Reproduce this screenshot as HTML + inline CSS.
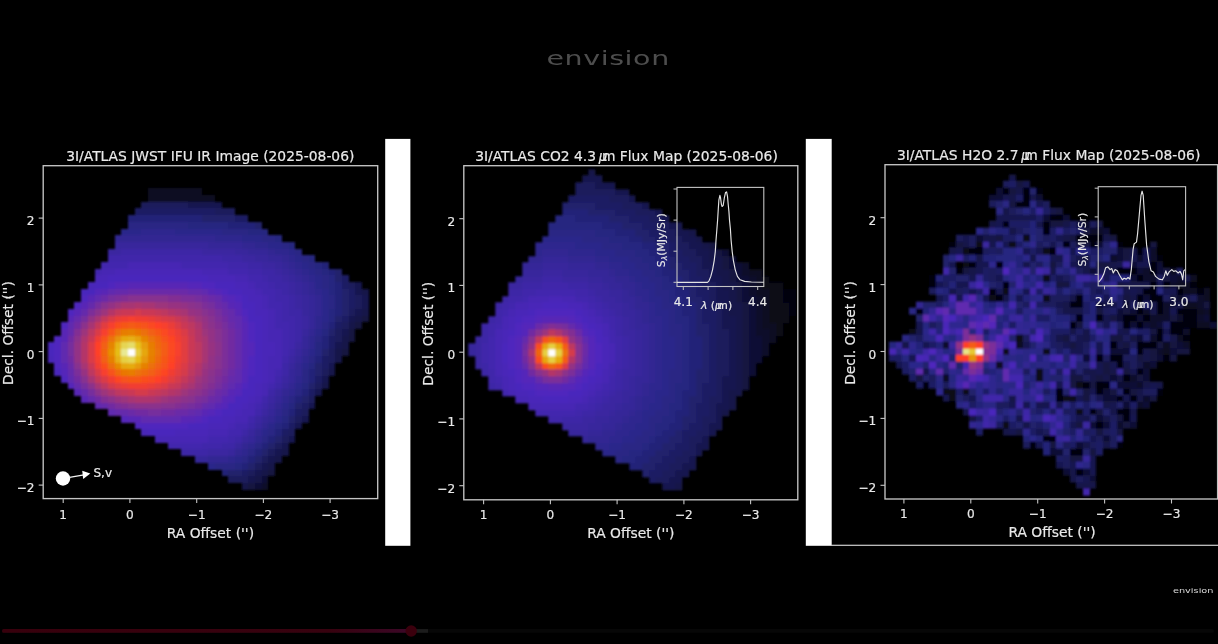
<!DOCTYPE html>
<html lang="en"><head><meta charset="utf-8"><title>3I/ATLAS JWST IFU maps</title>
<style>html,body{margin:0;padding:0;background:#000;overflow:hidden}svg{display:block}</style></head>
<body>
<svg width="1218" height="644" viewBox="0 0 1218 644" font-family="DejaVu Sans, Liberation Sans, sans-serif">
<style>text:not(.lg){stroke:#e9e9e9;stroke-width:.18px}</style>
<rect width="1218" height="644" fill="#000"/>
<g filter="url(#soft)">
<g transform="translate(40.99 165.08) scale(6.690)" stroke-width="1.02" fill="none" shape-rendering="crispEdges">
<path stroke="#0b0b24" d="M16 4h8M16 5h10"/>
<path stroke="#0d0d2c" d="M33 48h1"/>
<path stroke="#101034" d="M33 47h1M32 48h1"/>
<path stroke="#131340" d="M48 23h1M47 24h1M46 25h1M46 26h1M45 28h1M34 46h1M31 48h1"/>
<path stroke="#161648" d="M48 19h1M48 22h1M47 23h1M46 24h1M45 26h1M45 27h1M44 28h1M44 29h1M43 31h1M42 33h1M36 43h1M35 44h1M34 45h1M33 46h1M32 47h1M30 48h1"/>
<path stroke="#181850" d="M22 6h5M47 18h1M47 19h1M48 20h1M48 21h1M47 22h1M46 23h1M45 25h1M44 27h1M43 30h1M42 32h1M41 34h1M40 36h1M39 38h1M38 39h1M37 41h1M36 42h1M35 43h1M34 44h1M33 45h1M32 46h1M31 47h1"/>
<path stroke="#1c1c5c" d="M15 6h7M26 7h3M46 18h1M47 20h1M47 21h1M46 22h1M45 24h1M44 25h1M44 26h1M43 28h1M43 29h1M42 31h1M41 33h1M40 35h1M39 37h1M38 38h1M37 40h1M36 41h1M35 42h1M34 43h1M33 44h1M32 45h1M31 46h1M28 47h3"/>
<path stroke="#1e1e64" d="M14 7h12M29 8h2M45 17h1M45 18h1M46 19h1M46 20h1M46 21h1M45 23h1M44 24h1M43 26h1M43 27h1M42 29h1M42 30h1M41 32h1M40 34h1M39 36h1M38 37h1M37 39h1M36 40h1M30 46h1"/>
<path stroke="#20206c" d="M24 8h5M32 9h1M44 16h1M44 17h1M45 19h1M45 20h1M45 21h1M45 22h1M44 23h1M43 25h1M42 28h1M41 30h1M41 31h1M40 33h1M39 35h1M38 36h1M37 38h1M35 41h1M34 42h1M33 43h1M32 44h1M31 45h1M28 46h2"/>
<path stroke="#242478" d="M13 8h11M28 9h4M42 15h1M43 16h1M44 18h1M44 19h1M44 20h1M44 21h1M44 22h1M43 24h1M42 26h1M42 27h1M41 29h1M40 31h1M40 32h1M39 34h1M38 35h1M37 37h1M36 39h1M35 40h1M34 41h1M33 42h1M32 43h1M31 44h1M30 45h1M27 46h1"/>
<path stroke="#262680" d="M22 9h6M31 10h3M35 11h1M37 12h1M40 14h1M41 15h1M42 16h1M43 17h1M43 18h1M43 19h1M43 22h1M43 23h1M42 25h1M41 27h1M41 28h1M40 30h1M39 33h1M37 36h1M36 38h1M35 39h1M29 45h1"/>
<path stroke="#292684" d="M13 9h9M27 10h4M33 11h2M36 12h1M38 13h1M39 14h1M40 15h1M41 16h1M42 17h1M42 18h1M43 20h1M43 21h1M42 24h1M41 26h1M40 29h1M39 31h1M39 32h1M38 34h1M37 35h1M36 37h1M34 40h1M33 41h1M32 42h1M31 43h1M30 44h1M26 45h3"/>
<path stroke="#2c268a" d="M12 10h3M20 10h7M30 11h3M34 12h2M37 13h1M38 14h1M39 15h1M40 16h1M41 17h1M41 18h1M42 19h1M42 20h1M42 21h1M42 22h1M42 23h1M41 25h1M40 28h1M39 30h1M38 33h1M36 36h1M35 38h1M34 39h1M33 40h1M29 44h1M25 45h1"/>
<path stroke="#2f268e" d="M15 10h5M26 11h4M32 12h2M35 13h2M37 14h1M38 15h1M39 16h1M40 17h1M41 19h1M41 23h1M41 24h1M40 26h1M40 27h1M39 29h1M38 32h1M37 34h1M36 35h1M35 37h1M32 41h1M31 42h1M30 43h1M28 44h1"/>
<path stroke="#312692" d="M11 11h15M30 12h2M34 13h1M36 14h1M37 15h1M38 16h1M39 17h1M40 18h1M40 19h1M41 20h1M41 21h1M41 22h1M40 25h1M39 28h1M38 30h1M38 31h1M37 33h1M36 34h1M35 36h1M34 38h1M33 39h1M32 40h1M30 42h1M29 43h1M25 44h3"/>
<path stroke="#352698" d="M25 12h5M31 13h3M34 14h2M36 15h1M37 16h1M38 17h1M39 18h1M39 19h1M40 20h1M40 21h1M40 22h1M40 23h1M40 24h1M39 26h1M39 27h1M38 29h1M37 31h1M37 32h1M35 35h1M34 37h1M33 38h1M31 41h1M23 44h2"/>
<path stroke="#37269c" d="M11 12h14M29 13h2M32 14h2M35 15h1M36 16h1M37 17h1M38 18h1M38 19h1M39 20h1M39 21h1M39 22h1M39 25h1M38 28h1M37 30h1M36 33h1M35 34h1M34 36h1M32 39h1M31 40h1M30 41h1M29 42h1M28 43h1"/>
<path stroke="#3a26a0" d="M10 13h2M24 13h5M30 14h2M33 15h2M35 16h1M36 17h1M37 18h1M37 19h1M38 20h1M38 21h1M39 23h1M39 24h1M38 27h1M37 29h1M36 32h1M34 35h1M33 37h1M32 38h1M25 43h3"/>
<path stroke="#3d26a6" d="M12 13h12M27 14h3M31 15h2M33 16h2M34 17h2M35 18h2M36 19h1M37 20h1M37 21h1M37 22h2M38 23h1M38 24h1M38 25h1M38 26h1M37 28h1M36 30h1M36 31h1M35 33h1M34 34h1M33 36h1M31 39h1M30 40h1M29 41h1M27 42h2M21 43h4"/>
<path stroke="#4026aa" d="M10 14h17M28 15h3M31 16h2M33 17h1M34 18h1M35 19h1M35 20h2M36 21h1M36 22h1M36 23h2M37 24h1M37 25h1M37 26h1M37 27h1M36 29h1M35 32h1M33 35h1M32 37h1M31 38h1M28 41h1M24 42h3"/>
<path stroke="#4226ae" d="M9 15h4M21 15h7M8 16h1M28 16h3M31 17h2M32 18h2M33 19h2M34 20h1M34 21h2M35 22h1M35 23h1M35 24h2M36 25h1M36 26h1M36 27h1M36 28h1M35 31h1M34 33h1M32 36h1M29 39h2M28 40h2M25 41h3M19 42h5"/>
<path stroke="#4626b4" d="M13 15h8M9 16h2M24 16h4M29 17h2M31 18h1M32 19h1M33 20h1M33 21h1M34 22h1M34 23h1M34 24h1M34 25h2M34 26h2M35 27h1M35 28h1M34 29h2M34 30h2M34 31h1M34 32h1M33 33h1M33 34h1M32 35h1M31 36h1M30 37h2M29 38h2M28 39h1M25 40h3M17 41h8"/>
<path stroke="#4826b8" d="M11 16h13M8 17h2M25 17h4M7 18h1M29 18h2M30 19h2M31 20h2M32 21h1M32 22h2M33 23h1M33 24h1M33 25h1M33 26h1M33 27h2M33 28h2M1 29h1M33 29h1M33 30h1M33 31h1M33 32h1M32 33h1M32 34h1M31 35h1M30 36h1M29 37h1M27 38h2M25 39h3M15 40h1M20 40h5"/>
<path stroke="#4a26bc" d="M10 17h15M8 18h2M26 18h3M6 19h2M28 19h2M30 20h1M30 21h2M31 22h1M31 23h2M32 24h1M32 25h1M32 26h1M1 27h1M32 27h1M1 28h1M32 28h1M32 29h1M32 30h1M2 31h1M32 31h1M31 32h2M31 33h1M30 34h2M29 35h2M28 36h2M27 37h2M25 38h2M22 39h3M16 40h4"/>
<path stroke="#5027bd" d="M10 18h1M24 18h2M27 19h1M6 20h1M29 20h1M5 21h1M4 22h1M30 22h1M3 24h1M31 24h1M31 25h1M2 26h1M31 26h1M2 27h1M2 28h1M2 29h1M31 29h1M2 30h1M31 30h1M31 31h1M3 32h1M30 33h1M26 37h1M24 38h1M14 39h8"/>
<path stroke="#5428b9" d="M11 18h2M22 18h2M8 19h1M26 19h1M28 20h1M29 21h1M30 23h1M31 27h1M31 28h1M3 31h1M30 31h1M30 32h1M4 33h1M29 34h1M28 35h1M27 36h1M25 37h1M12 38h1M23 38h1"/>
<path stroke="#5928b5" d="M13 18h9M9 19h1M25 19h1M7 20h1M27 20h1M6 21h1M28 21h1M5 22h1M29 22h1M4 23h1M30 24h1M3 25h1M30 25h1M3 26h1M30 26h1M30 27h1M30 28h1M30 29h1M3 30h1M30 30h1M29 33h1M5 34h1M28 34h1M6 35h1M27 35h1M26 36h1M24 37h1M13 38h2M21 38h2"/>
<path stroke="#602aaf" d="M10 19h1M24 19h1M8 20h1M29 23h1M4 24h1M29 24h1M3 27h1M3 28h1M3 29h1M29 31h1M4 32h1M29 32h1M28 33h1M8 36h1M25 36h1M10 37h1M23 37h1M15 38h6"/>
<path stroke="#652aab" d="M11 19h2M22 19h2M26 20h1M7 21h1M27 21h1M6 22h1M28 22h1M5 23h1M28 23h1M4 25h1M29 25h1M29 26h1M29 27h1M29 28h1M29 29h1M29 30h1M4 31h1M28 32h1M5 33h1M6 34h1M27 34h1M7 35h1M26 35h1M9 36h1M24 36h1M11 37h2M22 37h1"/>
<path stroke="#6a2ba7" d="M13 19h9M9 20h1M25 20h1M26 21h1M27 22h1M28 24h1M4 30h1M28 31h1M27 33h1M26 34h1M25 35h1M13 37h1M20 37h2"/>
<path stroke="#712ca1" d="M24 20h1M27 23h1M5 24h1M28 25h1M4 26h1M28 26h1M28 27h1M28 28h1M4 29h1M28 29h1M28 30h1M5 32h1M27 32h1M8 35h1M10 36h1M23 36h1M14 37h2M18 37h2"/>
<path stroke="#762d9d" d="M10 20h1M23 20h1M8 21h1M25 21h1M26 22h1M6 23h1M27 24h1M4 27h1M4 28h1M27 31h1M6 33h1M26 33h1M7 34h1M25 34h1M24 35h1M22 36h1M16 37h2"/>
<path stroke="#7b2e99" d="M11 20h1M21 20h2M24 21h1M7 22h1M26 23h1M27 25h1M27 26h1M27 27h1M27 28h1M27 29h1M27 30h1M5 31h1M26 32h1M23 35h1M11 36h1M21 36h1"/>
<path stroke="#822f93" d="M12 20h1M19 20h2M25 22h1M26 24h1M5 25h1M26 31h1M25 33h1M24 34h1M9 35h1M12 36h1M20 36h1"/>
<path stroke="#87308f" d="M13 20h6M9 21h1M23 21h1M24 22h1M25 23h1M26 25h1M26 26h1M26 29h1M5 30h1M26 30h1M6 32h1M25 32h1M22 35h1M13 36h1M18 36h2"/>
<path stroke="#8b318b" d="M22 21h1M8 22h1M6 24h1M25 24h1M5 26h1M26 27h1M26 28h1M25 31h1M7 33h1M24 33h1M8 34h1M23 34h1M10 35h1M21 35h1M14 36h4"/>
<path stroke="#933285" d="M10 21h1M21 21h1M23 22h1M7 23h1M24 23h1M25 25h1M25 26h1M5 27h1M5 28h1M5 29h1M25 29h1M25 30h1M24 32h1M22 34h1M20 35h1"/>
<path stroke="#973381" d="M19 21h2M22 22h1M24 24h1M25 27h1M25 28h1M6 31h1M24 31h1M23 33h1M11 35h1M19 35h1"/>
<path stroke="#9d347c" d="M11 21h1M17 21h2M9 22h1M23 23h1M6 25h1M24 25h1M24 30h1M23 32h1M9 34h1M21 34h1M12 35h1M18 35h1"/>
<path stroke="#a73573" d="M12 21h2M15 21h2M21 22h1M8 23h1M7 24h1M24 26h1M24 27h1M24 28h1M24 29h1M6 30h1M7 32h1M8 33h1M22 33h1M13 35h1M17 35h1"/>
<path stroke="#ad366e" d="M14 21h1M20 22h1M22 23h1M23 24h1M6 26h1M23 31h1M10 34h1M20 34h1M14 35h3"/>
<path stroke="#b43668" d="M10 22h1M19 22h1M23 25h1M23 26h1M6 27h1M6 28h1M6 29h1M23 30h1M22 32h1M21 33h1M19 34h1"/>
<path stroke="#bd3860" d="M18 22h1M21 23h1M22 24h1M7 25h1M23 27h1M23 28h1M23 29h1M7 31h1M22 31h1M9 33h1M11 34h1M18 34h1"/>
<path stroke="#c4385a" d="M11 22h1M17 22h1M9 23h1M8 24h1M22 25h1M22 30h1M8 32h1M21 32h1M20 33h1M12 34h1M17 34h1"/>
<path stroke="#ca3954" d="M12 22h2M15 22h2M20 23h1M21 24h1M7 26h1M22 26h1M22 27h1M22 28h1M22 29h1M7 30h1M19 33h1M13 34h1M16 34h1"/>
<path stroke="#d43a4c" d="M14 22h1M19 23h1M21 31h1M20 32h1M10 33h1M14 34h2"/>
<path stroke="#da3b46" d="M10 23h1M18 23h1M20 24h1M8 25h1M21 25h1M7 27h1M7 28h1M7 29h1M21 30h1M8 31h1M9 32h1M18 33h1"/>
<path stroke="#e13c41" d="M17 23h1M9 24h1M21 26h1M21 27h1M21 28h1M21 29h1M20 31h1M19 32h1M11 33h1M17 33h1"/>
<path stroke="#ea3d38" d="M11 23h1M16 23h1M19 24h1M20 25h1M20 30h1M12 33h1M16 33h1"/>
<path stroke="#f13e33" d="M12 23h1M14 23h2M8 26h1M20 26h1M20 29h1M8 30h1M19 31h1M10 32h1M18 32h1M13 33h3"/>
<path stroke="#f73f2d" d="M13 23h1M10 24h1M18 24h1M9 25h1M19 25h1M20 27h1M20 28h1M8 29h1M9 31h1"/>
<path stroke="#ff4126" d="M17 24h1M8 27h1M8 28h1M19 30h1M17 32h1"/>
<path stroke="#fd4523" d="M19 26h1M19 29h1M18 31h1M11 32h1"/>
<path stroke="#fb4921" d="M16 24h1M18 25h1M19 27h1M19 28h1M16 32h1"/>
<path stroke="#fa4d1e" d="M11 24h1M9 30h1M15 32h1"/>
<path stroke="#f7531b" d="M15 24h1M9 26h1M18 26h1M18 30h1M10 31h1M17 31h1M12 32h1"/>
<path stroke="#f65718" d="M12 24h1M14 24h1M10 25h1M17 25h1M18 29h1M13 32h2"/>
<path stroke="#f45b16" d="M13 24h1M18 27h1M18 28h1"/>
<path stroke="#f26112" d="M16 25h1M9 27h1M9 29h1M17 30h1M16 31h1"/>
<path stroke="#f06510" d="M17 26h1M9 28h1"/>
<path stroke="#ef690e" d="M17 27h1M17 29h1M11 31h1M15 31h1"/>
<path stroke="#ec6f0a" d="M11 25h1M15 25h1M17 28h1M10 30h1M16 30h1"/>
<path stroke="#eb7308" d="M10 26h1M16 26h1M14 31h1"/>
<path stroke="#e97705" d="M14 25h1M12 31h1"/>
<path stroke="#e77d02" d="M12 25h1M16 27h1M16 29h1M13 31h1"/>
<path stroke="#e68100" d="M13 25h1M16 28h1M10 29h1M15 30h1"/>
<path stroke="#e68502" d="M15 26h1M10 27h1"/>
<path stroke="#e68b05" d="M11 30h1"/>
<path stroke="#e68f06" d="M10 28h1"/>
<path stroke="#e69308" d="M11 26h1"/>
<path stroke="#e6990a" d="M15 29h1M14 30h1"/>
<path stroke="#e69d0c" d="M15 27h1"/>
<path stroke="#e6a10d" d="M14 26h1"/>
<path stroke="#e6a710" d="M15 28h1M12 30h1"/>
<path stroke="#e6ab11" d="M12 26h1M13 30h1"/>
<path stroke="#e6af13" d="M13 26h1M11 29h1"/>
<path stroke="#e6b515" d="M11 27h1"/>
<path stroke="#e6bd18" d="M11 28h1M14 29h1"/>
<path stroke="#e6c11f" d="M14 27h1"/>
<path stroke="#e6cc3c" d="M14 28h1"/>
<path stroke="#e6cf42" d="M12 29h1"/>
<path stroke="#e6d552" d="M12 27h1M13 29h1"/>
<path stroke="#e6dd69" d="M13 27h1"/>
<path stroke="#e9e993" d="M12 28h1"/>
<path stroke="#ffffff" d="M13 28h1"/>
</g>
<g transform="translate(461.68 165.68) scale(6.690)" stroke-width="1.02" fill="none" shape-rendering="crispEdges">
<path stroke="#050510" d="M48 19h2M48 20h2M49 21h1M49 22h1"/>
<path stroke="#070718" d="M45 17h1M45 18h3M46 19h2M46 20h2M46 21h3M46 22h3M46 23h3M47 24h1M47 25h1"/>
<path stroke="#0b0b24" d="M43 16h2M44 17h1M44 18h1M44 19h2M45 20h1M45 21h1M45 22h1M45 23h1M45 24h2M46 25h1M46 26h1"/>
<path stroke="#0d0d2c" d="M42 15h1M42 16h1M43 17h1M43 18h1M43 19h1M44 20h1M44 21h1M44 22h1M44 23h1M44 24h1M44 25h2M45 26h1M45 27h1M45 28h1"/>
<path stroke="#101034" d="M39 13h1M40 14h1M40 15h2M41 16h1M41 17h2M42 18h1M42 19h1M42 20h2M43 21h1M43 22h1M43 23h1M43 24h1M43 25h1M43 26h2M43 27h2M43 28h2M43 29h2M43 30h1M43 31h1"/>
<path stroke="#131340" d="M37 12h1M38 13h1M39 14h1M39 15h1M40 16h1M40 17h1M41 18h1M41 19h1M41 20h1M42 21h1M42 22h1M42 23h1M42 24h1M42 25h1M42 26h1M42 27h1M42 28h1M42 29h1M42 30h1M42 31h1M42 32h1M42 33h1"/>
<path stroke="#161648" d="M19 1h1M34 10h1M35 11h1M36 12h1M37 13h1M37 14h2M38 15h1M38 16h2M39 17h1M39 18h2M40 19h1M40 20h1M40 21h2M40 22h2M41 23h1M41 24h1M41 25h1M41 26h1M41 27h1M41 28h1M41 29h1M41 30h1M41 31h1M41 32h1M41 33h1M40 34h2M40 35h1M40 36h1M39 37h1M32 48h1"/>
<path stroke="#181850" d="M18 2h3M20 3h3M23 4h2M25 5h1M27 6h1M29 7h1M30 8h1M31 9h2M32 10h2M33 11h2M34 12h2M35 13h2M36 14h1M36 15h2M37 16h1M37 17h2M38 18h1M38 19h2M38 20h2M39 21h1M39 22h1M39 23h2M39 24h2M40 25h1M40 26h1M40 27h1M40 28h1M40 29h1M40 30h1M40 31h1M39 32h2M39 33h2M39 34h1M39 35h1M38 36h2M38 37h1M38 38h1M37 39h2M37 40h1M36 41h1M35 42h2M35 43h1M34 44h1M33 45h2M32 46h2M31 47h2M30 48h2"/>
<path stroke="#1c1c5c" d="M17 3h3M17 4h6M22 5h3M24 6h3M26 7h3M28 8h2M29 9h2M30 10h2M31 11h2M32 12h2M33 13h2M34 14h2M35 15h1M35 16h2M36 17h1M36 18h2M37 19h1M37 20h1M37 21h2M38 22h1M38 23h1M38 24h1M38 25h2M38 26h2M38 27h2M38 28h2M38 29h2M38 30h2M38 31h2M38 32h1M38 33h1M38 34h1M37 35h2M37 36h1M37 37h1M36 38h2M36 39h1M35 40h2M34 41h2M34 42h1M33 43h2M32 44h2M31 45h2M30 46h2M29 47h2"/>
<path stroke="#1e1e64" d="M16 5h6M20 6h4M23 7h3M25 8h3M27 9h2M28 10h2M29 11h2M31 12h1M31 13h2M32 14h2M33 15h2M34 16h1M34 17h2M35 18h1M35 19h2M36 20h1M36 21h1M36 22h2M36 23h2M37 24h1M37 25h1M37 26h1M37 27h1M37 28h1M37 29h1M37 30h1M37 31h1M37 32h1M36 33h2M36 34h2M36 35h1M35 36h2M35 37h2M35 38h1M34 39h2M33 40h2M33 41h1M32 42h2M31 43h2M30 44h2M29 45h2M28 46h2M28 47h1"/>
<path stroke="#20206c" d="M15 6h5M19 7h4M22 8h3M24 9h3M26 10h2M27 11h2M29 12h2M30 13h1M31 14h1M31 15h2M32 16h2M33 17h1M33 18h2M34 19h1M34 20h2M35 21h1M35 22h1M35 23h1M35 24h2M35 25h2M36 26h1M36 27h1M36 28h1M36 29h1M36 30h1M35 31h2M35 32h2M35 33h1M35 34h1M34 35h2M34 36h1M34 37h1M33 38h2M33 39h1M32 40h1M31 41h2M30 42h2M29 43h2M28 44h2M27 45h2M27 46h1"/>
<path stroke="#242478" d="M15 7h4M17 8h5M21 9h3M23 10h3M25 11h2M27 12h2M28 13h2M29 14h2M30 15h1M30 16h2M31 17h2M32 18h1M32 19h2M33 20h1M33 21h2M33 22h2M34 23h1M34 24h1M34 25h1M34 26h2M34 27h2M34 28h2M34 29h2M34 30h2M34 31h1M34 32h1M34 33h1M33 34h2M33 35h1M33 36h1M32 37h2M32 38h1M31 39h2M30 40h2M29 41h2M28 42h2M27 43h2M26 44h2M25 45h2"/>
<path stroke="#262680" d="M14 8h3M13 9h8M20 10h3M22 11h3M24 12h3M26 13h2M27 14h2M28 15h2M29 16h1M30 17h1M30 18h2M31 19h1M31 20h2M32 21h1M32 22h1M32 23h2M33 24h1M33 25h1M33 26h1M33 27h1M33 28h1M33 29h1M33 30h1M33 31h1M33 32h1M32 33h2M32 34h1M32 35h1M31 36h2M31 37h1M30 38h2M29 39h2M29 40h1M28 41h1M27 42h1M25 43h2M24 44h2"/>
<path stroke="#292684" d="M13 10h7M18 11h4M21 12h3M23 13h3M25 14h2M26 15h2M27 16h2M28 17h2M29 18h1M29 19h2M30 20h1M30 21h2M31 22h1M31 23h1M31 24h2M31 25h2M32 26h1M32 27h1M32 28h1M32 29h1M32 30h1M31 31h2M31 32h2M31 33h1M31 34h1M30 35h2M30 36h1M29 37h2M28 38h2M28 39h1M27 40h2M26 41h2M24 42h3M23 43h2M23 44h1"/>
<path stroke="#2c268a" d="M12 11h6M17 12h4M20 13h3M22 14h3M24 15h2M25 16h2M26 17h2M27 18h2M28 19h1M28 20h2M29 21h1M29 22h2M30 23h1M30 24h1M30 25h1M30 26h2M30 27h2M30 28h2M30 29h2M30 30h2M30 31h1M30 32h1M30 33h1M29 34h2M29 35h1M28 36h2M27 37h2M27 38h1M26 39h2M25 40h2M24 41h2M22 42h2M21 43h2"/>
<path stroke="#2f268e" d="M11 12h6M11 13h1M16 13h4M20 14h2M22 15h2M23 16h2M25 17h1M26 18h1M26 19h2M27 20h1M28 21h1M28 22h1M28 23h2M29 24h1M29 25h1M29 26h1M29 27h1M29 28h1M29 29h1M29 30h1M29 31h1M29 32h1M28 33h2M28 34h1M27 35h2M27 36h1M26 37h1M25 38h2M24 39h2M23 40h2M22 41h2M20 42h2"/>
<path stroke="#312692" d="M12 13h4M10 14h2M16 14h4M20 15h2M22 16h1M23 17h2M24 18h2M25 19h1M26 20h1M26 21h2M27 22h1M27 23h1M28 24h1M28 25h1M28 26h1M28 27h1M28 28h1M28 29h1M28 30h1M28 31h1M28 32h1M27 33h1M27 34h1M26 35h1M26 36h1M25 37h1M24 38h1M23 39h1M21 40h2M19 41h3"/>
<path stroke="#352698" d="M12 14h4M9 15h3M16 15h4M19 16h3M21 17h2M22 18h2M24 19h1M24 20h2M25 21h1M26 22h1M26 23h1M26 24h2M27 25h1M27 26h1M27 27h1M27 28h1M27 29h1M27 30h1M27 31h1M26 32h2M26 33h1M26 34h1M25 35h1M24 36h2M23 37h2M22 38h2M21 39h2M19 40h2M18 41h1"/>
<path stroke="#37269c" d="M12 15h4M9 16h3M15 16h4M8 17h1M19 17h2M21 18h1M22 19h2M23 20h1M24 21h1M24 22h2M25 23h1M25 24h1M26 25h1M26 26h1M1 27h1M26 27h1M1 28h1M26 28h1M26 29h1M26 30h1M26 31h1M25 32h1M25 33h1M24 34h2M24 35h1M23 36h1M22 37h1M20 38h2M19 39h2M16 40h3"/>
<path stroke="#3a26a0" d="M12 16h3M9 17h3M15 17h4M7 18h2M19 18h2M20 19h2M21 20h2M22 21h2M23 22h1M24 23h1M24 24h1M24 25h2M2 26h1M25 26h1M2 27h1M25 27h1M2 28h1M25 28h1M2 29h1M25 29h1M2 30h1M25 30h1M24 31h2M24 32h1M24 33h1M23 34h1M22 35h2M21 36h2M20 37h2M18 38h2M15 39h4"/>
<path stroke="#3d26a6" d="M12 17h3M9 18h3M16 18h3M7 19h2M19 19h1M6 20h1M20 20h1M5 21h1M21 21h1M22 22h1M4 23h1M23 23h1M3 24h1M23 24h1M3 25h1M23 25h1M3 26h1M24 26h1M24 27h1M24 28h1M24 29h1M3 30h1M24 30h1M3 31h1M23 31h1M23 32h1M4 33h1M23 33h1M22 34h1M21 35h1M20 36h1M18 37h2M15 38h3"/>
<path stroke="#4026aa" d="M12 18h4M9 19h2M17 19h2M7 20h2M19 20h1M6 21h1M20 21h1M5 22h1M21 22h1M5 23h1M22 23h1M4 24h1M22 24h1M4 25h1M23 26h1M3 27h1M23 27h1M3 28h1M23 28h1M3 29h1M23 29h1M23 30h1M4 31h1M4 32h1M22 32h1M5 33h1M22 33h1M21 34h1M20 35h1M19 36h1M17 37h1M13 38h2"/>
<path stroke="#4226ae" d="M11 19h6M9 20h1M17 20h2M7 21h1M19 21h1M6 22h1M20 22h1M21 23h1M5 24h1M22 25h1M4 26h1M22 26h1M4 27h1M4 28h1M4 29h1M4 30h1M22 30h1M22 31h1M5 32h1M21 33h1M6 34h1M20 34h1M19 35h1M17 36h2M11 37h6"/>
<path stroke="#4626b4" d="M10 20h3M15 20h2M8 21h2M18 21h1M7 22h1M19 22h1M6 23h1M20 23h1M6 24h1M21 24h1M5 25h1M21 25h1M5 26h1M5 27h1M22 27h1M5 28h1M22 28h1M5 29h1M22 29h1M5 30h1M5 31h1M21 31h1M6 32h1M21 32h1M6 33h1M20 33h1M7 34h1M19 34h1M8 35h2M18 35h1M10 36h7"/>
<path stroke="#4826b8" d="M13 20h2M10 21h2M16 21h2M8 22h2M18 22h1M7 23h1M19 23h1M7 24h1M20 24h1M6 25h1M6 26h1M21 26h1M21 27h1M21 28h1M21 29h1M6 30h1M21 30h1M6 31h1M7 32h1M20 32h1M7 33h1M19 33h1M8 34h2M18 34h1M10 35h2M16 35h2"/>
<path stroke="#4a26bc" d="M12 21h4M10 22h1M17 22h1M8 23h1M18 23h1M19 24h1M7 25h1M20 25h1M20 26h1M6 27h1M6 28h1M6 29h1M20 30h1M7 31h1M20 31h1M19 32h1M8 33h1M18 33h1M10 34h1M16 34h2M12 35h4"/>
<path stroke="#5027bd" d="M11 22h6M9 23h2M17 23h1M8 24h1M18 24h1M8 25h1M19 25h1M7 26h1M7 27h1M20 27h1M7 28h1M20 28h1M7 29h1M20 29h1M7 30h1M8 31h1M19 31h1M8 32h1M18 32h1M9 33h2M17 33h1M11 34h5"/>
<path stroke="#5428b9" d="M11 23h1M16 23h1M9 24h2M9 25h1M18 25h1M8 26h1M19 26h1M8 27h1M19 27h1M8 28h1M19 28h1M8 29h1M19 29h1M8 30h1M19 30h1M9 31h1M18 31h1M9 32h2M17 32h1M11 33h2M15 33h2"/>
<path stroke="#5928b5" d="M12 23h4M17 24h1M13 33h2"/>
<path stroke="#602aaf" d="M18 26h1M18 30h1M16 32h1"/>
<path stroke="#652aab" d="M16 24h1M9 26h1M18 29h1M9 30h1M17 31h1M11 32h1"/>
<path stroke="#6a2ba7" d="M11 24h1M17 25h1M18 27h1M18 28h1"/>
<path stroke="#712ca1" d="M10 25h1M9 27h1M9 29h1M10 31h1M15 32h1"/>
<path stroke="#762d9d" d="M12 24h1M15 24h1M9 28h1M17 30h1M12 32h1"/>
<path stroke="#7b2e99" d="M14 24h1M17 26h1M16 31h1M13 32h2"/>
<path stroke="#822f93" d="M13 24h1M16 25h1"/>
<path stroke="#87308f" d="M11 25h1M10 26h1M17 27h1M17 28h1M17 29h1M10 30h1M11 31h1"/>
<path stroke="#8b318b" d="M15 31h1"/>
<path stroke="#933285" d="M15 25h1M16 26h1M16 30h1"/>
<path stroke="#973381" d="M10 27h1M10 29h1M12 31h1"/>
<path stroke="#9d347c" d="M12 25h1"/>
<path stroke="#a73573" d="M14 31h1"/>
<path stroke="#ad366e" d="M14 25h1M10 28h1"/>
<path stroke="#b43668" d="M16 29h1M13 31h1"/>
<path stroke="#bd3860" d="M13 25h1M16 27h1"/>
<path stroke="#c4385a" d="M11 26h1M11 30h1"/>
<path stroke="#d43a4c" d="M16 28h1"/>
<path stroke="#da3b46" d="M15 30h1"/>
<path stroke="#e13c41" d="M15 26h1"/>
<path stroke="#fa4d1e" d="M11 27h1M11 29h1M12 30h1"/>
<path stroke="#f7531b" d="M12 26h1"/>
<path stroke="#f65718" d="M14 26h1M14 30h1"/>
<path stroke="#f45b16" d="M15 27h1M15 29h1"/>
<path stroke="#f06510" d="M11 28h1"/>
<path stroke="#ef690e" d="M13 26h1M13 30h1"/>
<path stroke="#eb7308" d="M15 28h1"/>
<path stroke="#e6a710" d="M12 27h1M12 29h1"/>
<path stroke="#e6ab11" d="M14 27h1M14 29h1"/>
<path stroke="#e6cf42" d="M13 27h1M12 28h1M14 28h1M13 29h1"/>
<path stroke="#ffffff" d="M13 28h1"/>
</g>
<g transform="translate(882.38 164.28) scale(6.690)" stroke-width="1.02" fill="none" shape-rendering="crispEdges">
<path stroke="#020208" d="M23 4h1M31 11h2M38 13h1M41 14h1M40 15h1M7 17h1M42 18h1M46 18h1M40 19h1M44 19h1M47 19h1M41 20h1M41 21h1M38 22h1M36 23h1M39 23h1M45 23h2M38 24h1M43 24h4M41 25h1M43 25h2M41 26h1M39 27h1M42 29h1M36 37h1M35 42h1"/>
<path stroke="#050510" d="M18 4h1M21 4h1M21 5h1M20 6h2M25 8h2M18 9h1M24 9h1M24 10h1M29 11h2M10 12h1M27 12h1M31 12h1M35 12h1M13 13h2M25 13h1M13 15h1M17 15h1M11 16h1M35 16h3M40 16h1M38 17h1M7 18h1M18 18h1M40 18h1M16 19h1M39 19h1M17 20h1M29 20h1M38 20h1M40 20h1M28 21h2M5 22h1M41 22h1M44 22h3M29 23h1M32 23h1M37 23h1M28 24h1M36 24h1M45 26h1M34 27h1M38 27h1M40 27h1M38 28h1M32 29h1M34 29h2M35 30h1M38 31h1M36 32h1M6 33h1M30 33h1M32 33h2M26 34h1M32 34h1M36 34h1M41 34h1M26 35h1M35 35h1M37 35h1M31 37h1M35 37h1M36 38h1M32 39h1M24 41h2M22 42h1M28 43h2M29 46h1"/>
<path stroke="#070718" d="M21 11h1M14 12h1M19 12h1M12 13h1M24 13h1M12 15h1M24 17h1M18 19h1M16 20h1M24 20h1M4 25h1M20 26h1M18 28h1M24 28h1M23 31h1M23 32h1M29 33h1M9 34h2M12 34h1M10 35h1M27 35h2M29 37h1M18 39h1"/>
<path stroke="#0b0b24" d="M43 16h1M46 17h1M44 18h2M45 19h2M48 19h1M48 20h1M45 21h2M47 22h1M47 24h2M44 26h1M20 27h1M42 27h1M42 28h1M17 30h1M9 32h1"/>
<path stroke="#0d0d2c" d="M30 9h1M31 10h2M40 13h1M34 14h1M38 14h1M40 14h1M39 16h1M39 17h2M44 17h1M43 18h1M44 20h1M47 20h1M36 21h1M42 21h1M47 21h1M39 22h1M42 22h1M48 22h1M40 23h3M44 23h1M47 23h1M40 24h1M45 25h1M40 26h1M9 27h1M45 27h1M41 28h1M39 30h1M37 32h1M38 33h1M39 35h1M38 36h1M35 39h1"/>
<path stroke="#101034" d="M17 4h1M16 5h2M23 5h1M24 8h1M27 8h1M33 10h1M14 11h1M32 12h1M35 13h1M35 14h1M37 15h1M41 15h1M31 16h1M38 16h1M41 16h1M37 17h1M43 17h1M39 20h1M32 21h1M38 21h1M43 21h1M35 22h1M37 22h1M35 23h1M38 23h1M48 23h1M37 24h1M39 24h1M41 24h1M49 24h1M38 26h1M44 27h1M34 28h3M43 28h1M30 29h1M41 29h1M40 30h1M39 31h1M34 32h1M39 32h1M35 33h3M33 34h1M33 35h2M36 36h1M39 36h1M32 38h1M31 39h1M33 39h1M37 39h1M33 41h1M29 42h1M25 43h2M27 46h1M30 46h1M31 47h1"/>
<path stroke="#131340" d="M20 3h1M19 4h1M19 6h1M26 7h1M25 9h2M32 9h1M30 10h1M17 11h1M28 11h1M34 11h1M11 12h1M29 12h2M40 12h1M36 13h1M30 14h1M36 14h1M25 15h1M32 15h2M12 16h1M34 16h1M42 16h1M42 17h1M26 18h2M35 18h1M36 20h1M43 20h1M48 21h1M32 22h1M36 22h1M34 23h1M43 23h1M29 24h1M40 25h1M27 26h1M34 26h2M37 26h1M28 27h1M36 27h1M41 27h1M43 27h1M40 28h1M44 28h2M38 29h1M40 29h1M43 29h1M33 30h1M33 31h1M36 31h1M5 32h1M28 32h2M32 32h1M38 32h1M28 33h1M31 33h1M30 34h1M34 34h1M37 34h1M30 35h1M40 35h1M32 37h1M13 38h1M35 38h1M29 39h1M36 39h1M20 40h1M32 40h1M35 40h1M25 42h1M31 43h1M28 44h2"/>
<path stroke="#161648" d="M19 2h1M20 4h1M19 5h1M22 5h1M18 7h1M25 7h1M16 9h1M23 9h1M27 9h1M29 9h1M19 10h1M15 11h2M27 11h1M33 11h1M12 12h1M10 13h1M37 13h1M14 14h1M22 14h1M26 14h1M29 14h1M21 15h1M29 15h2M34 15h1M13 16h1M25 16h1M30 16h1M45 17h1M36 18h4M10 19h1M36 19h1M38 19h1M18 20h1M28 20h1M37 20h1M45 20h1M27 21h1M33 21h2M40 21h1M44 21h1M27 22h3M40 22h1M5 25h1M28 25h1M30 25h1M36 25h1M26 26h1M30 26h1M43 26h1M3 27h1M35 27h1M39 28h1M39 29h1M36 30h1M38 30h1M6 31h1M30 31h2M34 31h1M31 32h1M33 32h1M35 32h1M39 33h1M41 33h1M38 34h1M19 35h1M38 35h1M33 36h1M12 37h1M34 37h1M37 37h1M20 38h1M30 38h1M33 38h1M21 39h1M18 40h1M30 42h1M33 42h1M28 46h1M28 47h1M29 48h3"/>
<path stroke="#181850" d="M21 3h1M18 5h1M23 6h1M17 8h6M17 9h1M12 11h1M26 11h1M16 12h1M18 12h1M25 12h1M11 13h1M21 13h1M23 13h1M28 13h1M39 13h1M25 14h1M37 14h1M39 14h1M10 15h1M14 15h2M28 15h1M35 15h1M38 15h2M14 16h1M32 16h2M13 17h1M17 17h1M26 17h1M33 17h1M8 18h1M11 18h2M41 18h1M13 19h1M17 19h1M21 19h1M32 19h1M37 19h1M42 19h2M8 20h1M11 20h1M15 20h1M20 20h1M33 20h1M26 21h1M43 22h1M33 23h1M5 24h1M33 24h1M35 25h1M42 25h1M29 26h1M6 27h1M21 27h1M27 27h1M29 27h1M32 27h1M28 28h2M32 28h1M4 29h1M2 30h1M32 30h1M34 30h1M28 31h1M32 31h1M37 31h1M26 33h1M40 33h1M31 34h1M9 35h1M13 35h1M29 35h1M32 35h1M36 35h1M19 36h1M21 36h1M23 36h2M26 36h1M34 36h1M29 38h1M37 38h1M28 39h1M19 40h1M23 40h1M31 41h1M23 42h1M31 44h1M26 45h1M28 45h1M31 45h1M31 46h1M30 47h1"/>
<path stroke="#1c1c5c" d="M18 3h1M16 6h1M24 6h1M19 7h1M28 9h1M31 9h1M20 10h1M11 11h1M13 11h1M24 11h1M13 12h1M23 12h1M28 12h1M15 13h1M17 13h1M28 14h1M23 15h1M26 15h1M16 16h1M29 16h1M44 16h1M16 17h1M27 17h1M41 17h1M9 18h1M31 18h1M7 19h1M11 19h1M31 19h1M25 20h3M42 20h1M46 20h1M21 21h1M24 21h2M37 21h1M20 22h1M26 22h1M33 22h1M7 24h1M35 24h1M5 26h1M21 26h1M36 26h1M26 27h1M30 27h1M37 27h1M33 29h1M36 29h2M37 30h1M21 31h1M26 31h1M7 32h1M30 32h1M9 33h1M24 34h1M39 34h2M12 35h1M17 36h2M25 37h1M27 37h1M34 38h1M24 40h1M30 40h1M33 40h1M32 41h1M34 41h1M21 42h1M27 42h1M31 42h1M34 42h1M27 44h1M27 45h1M29 47h1"/>
<path stroke="#1e1e64" d="M19 3h1M20 5h1M22 7h1M24 7h1M23 8h1M19 9h3M25 10h1M27 10h1M29 10h1M18 11h2M25 11h1M20 12h1M16 13h1M22 13h1M31 13h2M12 14h1M15 16h1M17 16h1M9 17h2M15 17h1M25 17h1M17 18h1M30 18h1M32 18h1M12 19h1M14 19h1M23 19h1M26 19h1M29 19h1M9 20h1M31 20h1M35 20h1M8 21h1M23 21h1M30 21h1M35 21h1M30 22h1M34 22h1M23 23h2M28 23h1M19 24h1M42 24h1M15 25h1M25 25h3M29 25h1M38 25h2M25 26h1M31 26h1M42 26h1M7 27h1M25 27h1M26 28h1M30 28h1M1 29h2M3 30h1M3 31h1M4 32h1M5 33h1M7 33h1M11 34h1M15 34h1M13 36h1M28 36h1M30 36h1M37 36h1M23 37h1M28 37h1M30 37h1M14 38h1M18 38h1M28 38h1M17 39h1M19 39h1M23 39h1M34 39h1M14 40h1M22 40h1M28 40h1M31 40h1M34 40h1M28 42h1M32 42h1M32 43h1M26 44h1"/>
<path stroke="#20206c" d="M22 4h1M17 6h1M20 7h1M15 10h1M21 10h1M23 10h1M28 10h1M23 11h1M24 12h1M26 12h1M33 12h1M33 13h2M9 14h1M31 14h2M9 15h1M22 15h1M10 16h1M22 16h1M11 17h2M28 17h1M16 18h1M19 18h1M28 19h1M33 19h1M6 21h2M20 21h1M39 21h1M5 23h1M8 24h1M32 24h1M22 25h1M4 26h1M19 26h1M28 26h1M39 26h1M22 27h1M10 29h1M27 29h1M6 30h1M11 30h1M29 30h2M4 31h1M9 31h1M15 31h1M29 31h1M6 32h1M25 32h2M21 33h1M13 34h1M17 34h1M27 34h1M29 34h1M35 34h1M11 35h1M31 35h1M35 36h1M17 37h1M20 37h1M22 37h1M33 37h1M31 38h1M20 39h1M22 39h1M27 40h1M27 43h1M30 43h1"/>
<path stroke="#242478" d="M22 9h1M17 10h2M22 10h1M13 14h1M15 14h2M20 14h1M20 15h1M27 16h1M8 17h1M21 17h1M23 17h1M34 17h3M10 18h1M24 18h1M28 18h1M9 19h1M21 20h1M30 20h1M32 20h1M16 21h1M18 21h1M31 21h1M6 22h1M31 22h1M18 23h1M26 23h2M30 23h2M17 24h1M25 24h1M8 25h1M24 26h1M5 27h1M8 27h1M27 28h1M23 29h1M9 30h1M25 30h1M16 31h1M24 31h1M22 32h1M24 32h1M25 34h1M14 36h1M24 39h1M27 39h1M21 41h1M23 41h1M28 41h1M30 41h1M24 42h1M24 43h1"/>
<path stroke="#262680" d="M21 7h1M20 11h1M22 11h1M21 12h1M18 13h2M30 13h1M10 14h1M17 14h3M33 14h1M24 15h1M31 15h1M18 17h1M22 18h1M8 19h1M20 19h1M27 19h1M41 19h1M19 20h1M9 21h1M15 21h1M23 22h1M25 22h1M17 23h1M21 23h1M25 23h1M6 24h1M26 24h1M30 24h1M13 25h1M31 25h1M37 25h1M10 26h1M15 26h1M33 26h1M1 27h1M5 28h1M9 28h1M25 28h1M37 28h1M3 29h1M20 29h1M20 30h1M22 30h1M27 30h1M10 32h1M17 32h1M21 32h1M8 33h1M21 34h1M24 35h2M22 36h1M29 36h1M31 36h1M18 37h1M24 37h1M19 38h1M22 38h1M27 38h1"/>
<path stroke="#292684" d="M18 6h1M22 6h1M17 7h1M16 10h1M23 14h1M20 16h1M26 16h1M33 18h1M30 19h1M35 19h1M14 20h1M22 20h1M34 20h1M4 22h1M10 22h1M15 22h1M21 22h2M12 23h1M24 24h1M27 24h1M34 24h1M17 25h1M3 26h1M6 26h1M32 26h1M24 27h1M33 27h1M2 28h1M21 28h1M23 28h1M7 29h1M18 29h2M21 29h1M29 29h1M8 30h1M15 30h1M23 30h2M7 31h1M11 31h1M17 31h1M8 32h1M10 33h1M17 33h1M19 33h1M22 33h1M34 33h1M14 35h1M18 35h1M11 36h1M15 36h2M27 36h1M32 36h1M17 38h1M23 38h1M26 40h1M35 41h1M26 42h1M30 45h1"/>
<path stroke="#2c268a" d="M14 10h1M17 12h1M27 13h1M29 13h1M21 14h1M24 14h1M18 15h1M22 17h1M15 18h1M21 18h1M25 18h1M29 18h1M23 20h1M18 22h2M12 24h1M23 24h1M6 25h1M33 25h1M7 26h1M9 26h1M31 27h1M4 28h1M10 28h1M22 28h1M33 28h1M4 30h2M26 30h1M14 33h1M18 33h1M24 33h1M14 34h1M18 34h1M22 41h1"/>
<path stroke="#2f268e" d="M26 10h1M22 12h1M34 12h1M20 13h1M16 15h1M27 15h1M19 16h1M19 17h1M31 17h1M19 19h1M34 19h1M16 22h1M8 23h1M10 24h2M21 24h1M16 25h1M4 27h1M23 27h1M20 28h1M24 29h1M31 29h1M10 31h1M22 31h1M16 32h1M27 32h1M16 33h1M8 34h1M16 34h1M23 34h1M21 35h2M12 36h1M19 37h1M26 38h1M14 39h1M21 40h1M29 41h1M29 45h1"/>
<path stroke="#312692" d="M26 13h1M27 14h1M28 16h1M14 17h1M34 18h1M25 19h1M5 21h1M13 21h1M17 21h1M7 22h1M24 22h1M18 24h1M20 24h1M22 24h1M20 25h2M24 25h1M34 25h1M21 30h1M13 39h1M25 39h1M29 40h1"/>
<path stroke="#352698" d="M23 7h1M19 15h1M2 27h1M8 28h1M19 28h1M16 30h1M18 30h1M25 31h1M12 32h1M15 33h1M27 33h1M25 36h1M26 37h1M16 38h1"/>
<path stroke="#37269c" d="M32 17h1M13 18h1M24 19h1M10 21h1M11 23h1M19 23h1M22 23h1M11 26h1M16 26h1M31 28h1M19 31h2M35 31h1M13 33h1M19 34h2M22 34h1M20 35h1M15 37h1M26 41h1M30 44h1"/>
<path stroke="#3a26a0" d="M15 12h1M11 14h1M36 15h1M21 16h1M24 16h1M20 17h1M29 17h2M14 22h1M13 23h1M20 23h1M10 27h1M8 29h1M17 29h1M11 32h1M23 33h1M14 37h1M16 39h1M30 39h1M27 41h1"/>
<path stroke="#3d26a6" d="M20 18h1M15 19h1M14 21h1M7 23h1M10 25h1M32 25h1M18 27h1M6 28h1M28 30h1M31 30h1M20 36h1M21 37h1M15 38h1"/>
<path stroke="#4026aa" d="M9 16h1M23 18h1M22 19h1M12 20h1M14 23h1M7 25h1M3 28h1M28 29h1M11 33h1M28 34h1M15 35h3M21 38h1M25 38h1M15 39h1M26 39h1M25 40h1"/>
<path stroke="#4226ae" d="M23 16h1M19 21h1M22 21h1M22 26h1M25 29h1M12 30h1M27 31h1M15 32h1M19 32h2M25 33h1M30 49h1"/>
<path stroke="#4626b4" d="M14 18h1M10 20h1M11 25h1M18 26h1M17 28h1M6 29h1M26 29h1M23 35h1"/>
<path stroke="#4826b8" d="M9 24h1M31 24h1M14 25h1M23 25h1M8 26h1M1 28h1M5 29h1M19 30h1M14 32h1M20 33h1M24 38h1"/>
<path stroke="#4a26bc" d="M10 23h1M15 23h1M19 25h1M19 27h1M13 37h1M16 37h1"/>
<path stroke="#5027bd" d="M18 16h1M9 25h1M23 26h1M7 28h1M9 29h1M22 29h1M7 30h1"/>
<path stroke="#5428b9" d="M17 22h1M9 23h1M14 24h1M16 24h1M17 26h1"/>
<path stroke="#5928b5" d="M13 20h1M8 22h1M13 32h1M12 33h1"/>
<path stroke="#602aaf" d="M11 21h2M9 22h1M11 22h3M6 23h1M16 23h1M13 24h1M15 24h1M18 25h1M17 27h1M10 30h1M5 31h1M8 31h1M18 31h1M18 32h1"/>
<path stroke="#652aab" d="M12 31h1"/>
<path stroke="#6a2ba7" d="M16 29h1M14 31h1"/>
<path stroke="#7b2e99" d="M12 25h1M12 26h1M14 26h1M16 27h1M11 28h1M16 28h1M13 31h1"/>
<path stroke="#822f93" d="M15 28h1M14 30h1"/>
<path stroke="#933285" d="M13 26h1M11 27h1M15 27h1M15 29h1M13 30h1"/>
<path stroke="#ff4126" d="M12 27h1M14 27h1M11 29h2M14 29h1"/>
<path stroke="#f45b16" d="M13 27h1"/>
<path stroke="#e69308" d="M13 29h1"/>
<path stroke="#e6ca36" d="M13 28h1"/>
<path stroke="#e7e787" d="M12 28h1"/>
<path stroke="#ffffff" d="M14 28h1"/>
</g>
</g>
<rect x="385.2" y="138.9" width="25.2" height="406.9" fill="#fff"/>
<rect x="805.8" y="138.9" width="25.9" height="406.9" fill="#fff"/>
<rect x="831" y="544.7" width="387" height="1.2" fill="#cfcfcf"/>
<rect x="43.2" y="165.7" width="334.5" height="332.9" fill="none" stroke="#c4c4c4" stroke-width="1.35"/>
<path d="M63.2 498.6v4.5" stroke="#c4c4c4" stroke-width="1.1"/>
<text x="63.2" y="518.5" text-anchor="middle" font-size="12.1" fill="#e9e9e9">1</text>
<path d="M129.9 498.6v4.5" stroke="#c4c4c4" stroke-width="1.1"/>
<text x="129.9" y="518.5" text-anchor="middle" font-size="12.1" fill="#e9e9e9">0</text>
<path d="M196.7 498.6v4.5" stroke="#c4c4c4" stroke-width="1.1"/>
<text x="196.7" y="518.5" text-anchor="middle" font-size="12.1" fill="#e9e9e9">−1</text>
<path d="M263.4 498.6v4.5" stroke="#c4c4c4" stroke-width="1.1"/>
<text x="263.4" y="518.5" text-anchor="middle" font-size="12.1" fill="#e9e9e9">−2</text>
<path d="M330.1 498.6v4.5" stroke="#c4c4c4" stroke-width="1.1"/>
<text x="330.1" y="518.5" text-anchor="middle" font-size="12.1" fill="#e9e9e9">−3</text>
<path d="M43.2 218.1h-4.5" stroke="#c4c4c4" stroke-width="1.1"/>
<text x="34.5" y="225.1" text-anchor="end" font-size="12.1" fill="#e9e9e9">2</text>
<path d="M43.2 284.9h-4.5" stroke="#c4c4c4" stroke-width="1.1"/>
<text x="34.5" y="291.9" text-anchor="end" font-size="12.1" fill="#e9e9e9">1</text>
<path d="M43.2 351.6h-4.5" stroke="#c4c4c4" stroke-width="1.1"/>
<text x="34.5" y="358.6" text-anchor="end" font-size="12.1" fill="#e9e9e9">0</text>
<path d="M43.2 418.4h-4.5" stroke="#c4c4c4" stroke-width="1.1"/>
<text x="34.5" y="425.4" text-anchor="end" font-size="12.1" fill="#e9e9e9">−1</text>
<path d="M43.2 485.1h-4.5" stroke="#c4c4c4" stroke-width="1.1"/>
<text x="34.5" y="492.1" text-anchor="end" font-size="12.1" fill="#e9e9e9">−2</text>
<text x="210.4" y="538.0" text-anchor="middle" font-size="13.85" fill="#e9e9e9">RA Offset ('')</text>
<text transform="translate(12.7 333.1) rotate(-90)" text-anchor="middle" font-size="13.85" fill="#e9e9e9">Decl. Offset ('')</text>
<text x="210.3" y="160.5" text-anchor="middle" font-size="13.85" fill="#e9e9e9">3I/ATLAS JWST IFU IR Image (2025-08-06)</text>
<rect x="463.8" y="165.7" width="334.0" height="334.1" fill="none" stroke="#c4c4c4" stroke-width="1.35"/>
<path d="M483.6 499.8v4.5" stroke="#c4c4c4" stroke-width="1.1"/>
<text x="483.6" y="518.8" text-anchor="middle" font-size="12.1" fill="#e9e9e9">1</text>
<path d="M550.4 499.8v4.5" stroke="#c4c4c4" stroke-width="1.1"/>
<text x="550.4" y="518.8" text-anchor="middle" font-size="12.1" fill="#e9e9e9">0</text>
<path d="M617.1 499.8v4.5" stroke="#c4c4c4" stroke-width="1.1"/>
<text x="617.1" y="518.8" text-anchor="middle" font-size="12.1" fill="#e9e9e9">−1</text>
<path d="M683.9 499.8v4.5" stroke="#c4c4c4" stroke-width="1.1"/>
<text x="683.9" y="518.8" text-anchor="middle" font-size="12.1" fill="#e9e9e9">−2</text>
<path d="M750.6 499.8v4.5" stroke="#c4c4c4" stroke-width="1.1"/>
<text x="750.6" y="518.8" text-anchor="middle" font-size="12.1" fill="#e9e9e9">−3</text>
<path d="M463.8 218.7h-4.5" stroke="#c4c4c4" stroke-width="1.1"/>
<text x="455.1" y="225.7" text-anchor="end" font-size="12.1" fill="#e9e9e9">2</text>
<path d="M463.8 285.4h-4.5" stroke="#c4c4c4" stroke-width="1.1"/>
<text x="455.1" y="292.4" text-anchor="end" font-size="12.1" fill="#e9e9e9">1</text>
<path d="M463.8 352.2h-4.5" stroke="#c4c4c4" stroke-width="1.1"/>
<text x="455.1" y="359.2" text-anchor="end" font-size="12.1" fill="#e9e9e9">0</text>
<path d="M463.8 418.9h-4.5" stroke="#c4c4c4" stroke-width="1.1"/>
<text x="455.1" y="425.9" text-anchor="end" font-size="12.1" fill="#e9e9e9">−1</text>
<path d="M463.8 485.7h-4.5" stroke="#c4c4c4" stroke-width="1.1"/>
<text x="455.1" y="492.7" text-anchor="end" font-size="12.1" fill="#e9e9e9">−2</text>
<text x="630.8" y="538.1" text-anchor="middle" font-size="13.85" fill="#e9e9e9">RA Offset ('')</text>
<text transform="translate(433.3 333.8) rotate(-90)" text-anchor="middle" font-size="13.85" fill="#e9e9e9">Decl. Offset ('')</text>
<text x="626.5" y="160.5" text-anchor="middle" font-size="13.85" fill="#e9e9e9">3I/ATLAS CO2 4.3<tspan dx="2.6" font-style="italic">μ</tspan><tspan dx="-5.6">m</tspan> Flux Map (2025-08-06)</text>
<rect x="885.0" y="164.7" width="332.6" height="334.3" fill="none" stroke="#c4c4c4" stroke-width="1.35"/>
<path d="M903.9 499.0v4.5" stroke="#c4c4c4" stroke-width="1.1"/>
<text x="903.9" y="517.6" text-anchor="middle" font-size="12.1" fill="#e9e9e9">1</text>
<path d="M970.8 499.0v4.5" stroke="#c4c4c4" stroke-width="1.1"/>
<text x="970.8" y="517.6" text-anchor="middle" font-size="12.1" fill="#e9e9e9">0</text>
<path d="M1037.7 499.0v4.5" stroke="#c4c4c4" stroke-width="1.1"/>
<text x="1037.7" y="517.6" text-anchor="middle" font-size="12.1" fill="#e9e9e9">−1</text>
<path d="M1104.6 499.0v4.5" stroke="#c4c4c4" stroke-width="1.1"/>
<text x="1104.6" y="517.6" text-anchor="middle" font-size="12.1" fill="#e9e9e9">−2</text>
<path d="M1171.5 499.0v4.5" stroke="#c4c4c4" stroke-width="1.1"/>
<text x="1171.5" y="517.6" text-anchor="middle" font-size="12.1" fill="#e9e9e9">−3</text>
<path d="M885.0 217.7h-4.5" stroke="#c4c4c4" stroke-width="1.1"/>
<text x="876.3" y="224.7" text-anchor="end" font-size="12.1" fill="#e9e9e9">2</text>
<path d="M885.0 284.6h-4.5" stroke="#c4c4c4" stroke-width="1.1"/>
<text x="876.3" y="291.6" text-anchor="end" font-size="12.1" fill="#e9e9e9">1</text>
<path d="M885.0 351.5h-4.5" stroke="#c4c4c4" stroke-width="1.1"/>
<text x="876.3" y="358.5" text-anchor="end" font-size="12.1" fill="#e9e9e9">0</text>
<path d="M885.0 418.4h-4.5" stroke="#c4c4c4" stroke-width="1.1"/>
<text x="876.3" y="425.4" text-anchor="end" font-size="12.1" fill="#e9e9e9">−1</text>
<path d="M885.0 485.3h-4.5" stroke="#c4c4c4" stroke-width="1.1"/>
<text x="876.3" y="492.3" text-anchor="end" font-size="12.1" fill="#e9e9e9">−2</text>
<text x="1052.1" y="537.3" text-anchor="middle" font-size="13.85" fill="#e9e9e9">RA Offset ('')</text>
<text transform="translate(854.5 332.9) rotate(-90)" text-anchor="middle" font-size="13.85" fill="#e9e9e9">Decl. Offset ('')</text>
<text x="1048.6" y="159.9" text-anchor="middle" font-size="13.85" fill="#e9e9e9">3I/ATLAS H2O 2.7<tspan dx="2.6" font-style="italic">μ</tspan><tspan dx="-5.6">m</tspan> Flux Map (2025-08-06)</text>
<rect x="677.0" y="187.4" width="86.8" height="99.1" fill="none" stroke="#c4c4c4" stroke-width="1.1"/>
<path d="M683.3 286.5v3.5" stroke="#c4c4c4" stroke-width="1"/>
<path d="M708.1 286.5v3.5" stroke="#c4c4c4" stroke-width="1"/>
<path d="M732.9 286.5v3.5" stroke="#c4c4c4" stroke-width="1"/>
<path d="M757.7 286.5v3.5" stroke="#c4c4c4" stroke-width="1"/>
<path d="M677.0 189.0h-3.5" stroke="#c4c4c4" stroke-width="1"/>
<path d="M677.0 220.1h-3.5" stroke="#c4c4c4" stroke-width="1"/>
<path d="M677.0 251.2h-3.5" stroke="#c4c4c4" stroke-width="1"/>
<path d="M677.0 282.3h-3.5" stroke="#c4c4c4" stroke-width="1"/>
<text x="683.3" y="306.1" text-anchor="middle" font-size="12.1" fill="#e9e9e9">4.1</text>
<text x="757.7" y="306.1" text-anchor="middle" font-size="12.1" fill="#e9e9e9">4.4</text>
<text x="716.5" y="308.8" text-anchor="middle" font-size="10.85" fill="#e9e9e9"><tspan font-style="italic">λ</tspan> (<tspan font-style="italic">μ</tspan><tspan dx="-4.6">m</tspan>)</text>
<text transform="translate(665.2 240.3) rotate(-90)" text-anchor="middle" font-size="10.85" fill="#e9e9e9">S<tspan font-size="7.6" dy="1.7" font-style="italic">λ</tspan><tspan dy="-1.7">(MJy/Sr)</tspan></text>
<path d="M677.0 282.3 L707.5 282.3 L709.0 280.9 L710.8 276.4 L712.6 269.6 L714.2 260.6 L715.3 251.6 L716.0 240.3 L716.9 229.1 L717.6 220.1 L718.3 208.8 L718.9 199.8 L719.9 195.3 L720.5 197.5 L721.4 204.3 L722.1 206.5 L723.2 205.4 L724.4 197.5 L725.5 192.6 L726.6 191.9 L727.5 196.4 L728.2 204.3 L728.9 211.1 L729.5 220.1 L730.4 229.1 L731.1 240.3 L732.2 251.6 L733.4 260.6 L735.2 269.6 L737.4 276.4 L740.1 279.8 L744.6 281.4 L751.4 282.0 L763.8 282.3" fill="none" stroke="#e4e4e4" stroke-width="1.15" stroke-linejoin="round"/>
<rect x="1098.2" y="186.7" width="87.4" height="99.2" fill="none" stroke="#c4c4c4" stroke-width="1.1"/>
<path d="M1104.5 285.9v3.5" stroke="#c4c4c4" stroke-width="1"/>
<path d="M1129.3 285.9v3.5" stroke="#c4c4c4" stroke-width="1"/>
<path d="M1154.1 285.9v3.5" stroke="#c4c4c4" stroke-width="1"/>
<path d="M1178.9 285.9v3.5" stroke="#c4c4c4" stroke-width="1"/>
<path d="M1098.2 188.2h-3.5" stroke="#c4c4c4" stroke-width="1"/>
<path d="M1098.2 216.9h-3.5" stroke="#c4c4c4" stroke-width="1"/>
<path d="M1098.2 245.6h-3.5" stroke="#c4c4c4" stroke-width="1"/>
<path d="M1098.2 274.3h-3.5" stroke="#c4c4c4" stroke-width="1"/>
<text x="1104.5" y="305.5" text-anchor="middle" font-size="12.1" fill="#e9e9e9">2.4</text>
<text x="1178.9" y="305.5" text-anchor="middle" font-size="12.1" fill="#e9e9e9">3.0</text>
<text x="1137.9" y="308.2" text-anchor="middle" font-size="10.85" fill="#e9e9e9"><tspan font-style="italic">λ</tspan> (<tspan font-style="italic">μ</tspan><tspan dx="-4.6">m</tspan>)</text>
<text transform="translate(1086.4 239.7) rotate(-90)" text-anchor="middle" font-size="10.85" fill="#e9e9e9">S<tspan font-size="7.6" dy="1.7" font-style="italic">λ</tspan><tspan dy="-1.7">(MJy/Sr)</tspan></text>
<path d="M1098.8 282.0 L1101.5 278.7 L1103.8 274.1 L1105.6 267.8 L1107.9 266.9 L1110.1 269.6 L1111.7 268.5 L1113.3 273.0 L1115.1 269.6 L1117.3 270.8 L1119.6 275.3 L1122.3 279.8 L1124.1 278.2 L1126.3 279.1 L1128.1 277.5 L1129.9 279.1 L1131.3 269.6 L1133.1 249.4 L1134.2 243.7 L1136.5 242.1 L1137.6 233.6 L1139.4 213.3 L1141.0 195.3 L1142.1 191.2 L1143.2 195.3 L1144.8 220.1 L1146.6 244.9 L1148.9 261.8 L1151.1 270.8 L1153.4 271.9 L1155.6 276.4 L1159.0 279.1 L1162.4 279.8 L1164.2 276.4 L1165.8 270.8 L1167.3 275.3 L1169.1 271.9 L1171.8 269.6 L1173.7 271.4 L1175.9 270.8 L1178.2 273.0 L1180.0 271.4 L1181.5 274.1 L1182.7 279.8 L1183.8 270.8 L1184.9 269.6" fill="none" stroke="#e4e4e4" stroke-width="1.15" stroke-linejoin="round"/>
<circle cx="63" cy="478.5" r="7.2" fill="#fff"/>
<path d="M69.5 477.4L84 474.8" stroke="#f4f4f4" stroke-width="1.3"/><path d="M90.3 473.5L82.2 470.8L83.2 479.1Z" fill="#fff"/>
<text x="93.4" y="477.3" font-size="12.1" fill="#e9e9e9">S,v</text>
<text class="lg" transform="translate(608.1 65) scale(1.5 1)" text-anchor="middle" font-family="DejaVu Sans, Liberation Sans, sans-serif" font-size="19" letter-spacing="0.4" fill="#4d4d4d" filter="url(#lg)">envision</text>
<text class="lg" transform="translate(1193.2 593.3) scale(1.3 1)" text-anchor="middle" font-family="DejaVu Sans, Liberation Sans, sans-serif" font-size="7.5" fill="#d8d8d8" filter="url(#lg)">envision</text>
<rect x="2" y="629.1" width="1212" height="3.7" rx="1.85" fill="#070707"/>
<rect x="411" y="629.1" width="17" height="3.7" fill="#1c1c1c"/>
<rect x="2" y="629.1" width="410" height="3.7" rx="1.85" fill="url(#pg)"/>
<circle cx="411.2" cy="631" r="5.7" fill="#3b000d"/>
<defs><linearGradient id="pg" x1="0" x2="1" y1="0" y2="0"><stop offset="0" stop-color="#38000c"/><stop offset="0.8" stop-color="#38020f"/><stop offset="1" stop-color="#3c0828"/></linearGradient><filter id="lg" x="-5%" y="-50%" width="110%" height="200%"><feGaussianBlur stdDeviation="0.3"/></filter><filter id="soft" x="0" y="0" width="100%" height="100%" filterUnits="userSpaceOnUse"><feGaussianBlur stdDeviation="0.9"/></filter></defs>
</svg>
</body></html>
